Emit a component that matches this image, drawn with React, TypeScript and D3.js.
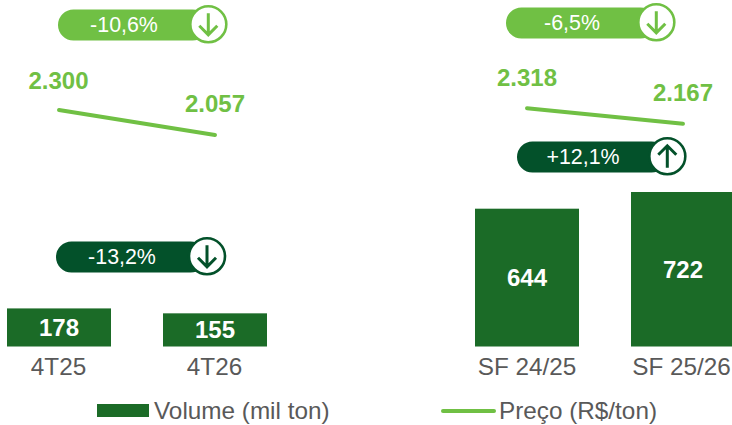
import React from "react";
import * as d3 from "d3";

const categories = ["4T25", "4T26", "SF 24/25", "SF 25/26"];
const volumes = [178, 155, 644, 722];
const priceLabels = ["2.300", "2.057", "2.318", "2.167"];
const prices = [2300, 2057, 2318, 2167];
const legendLabels = ["Volume (mil ton)", "Preço (R$/ton)"];
const pillTexts = ["-10,6%", "-6,5%", "+12,1%", "-13,2%"];
const pillDirections = ["down", "down", "up", "down"];
const pillTones = ["light", "light", "dark", "dark"];
const barLefts = [7, 163, 475, 631];
const pillLefts = [58, 506, 517, 56];
const pillMids = [25, 23, 157, 257];

const LIGHT = "#70C044";
const DARK = "#03512A";
const BAR = "#1B6B27";
const GREY = "#595959";
const FONT = "'Liberation Sans', Arial, sans-serif";

const BAR_W = 104;
const BASE = 346.5;

const yVol = d3.scaleLinear().domain([0, 722]).range([BASE, 192]);
const yPrice = d3.scaleLinear().domain([2057, 2318]).range([135, 108.2]);

function segment(x0: number, x1: number, a: number, b: number) {
  return d3
    .line<[number, number]>()
    .x((d) => d[0])
    .y((d) => yPrice(d[1]))([
    [x0, a],
    [x1, b],
  ]) as string;
}

function Pill({ i }: { i: number }) {
  const x = pillLefts[i];
  const cy = pillMids[i];
  const color = pillTones[i] === "dark" ? DARK : LIGHT;
  const w = 150;
  const h = 31;
  const cx = x + w + (i === 3 ? 1 : 0.3);
  const up = pillDirections[i] === "up";
  const my = cy - 0.7;
  const tip = up ? my - 10.5 : my + 10.5;
  const tail = up ? my + 11.5 : my - 11;
  const wing = up ? tip + 9 : tip - 9;
  return (
    <g>
      <rect x={x} y={cy - h / 2} width={w} height={h} rx={h / 2} fill={color} />
      <circle cx={cx} cy={my} r={18} fill="#fff" stroke={color} strokeWidth={2.6} />
      <path
        d={`M${cx},${tail}L${cx},${tip}M${cx - 9},${wing}L${cx},${tip}L${cx + 9},${wing}`}
        fill="none"
        stroke={color}
        strokeWidth={3}
      />
      <text x={x + 66} y={cy + 7.3} textAnchor="middle" fontSize={21.4} fill="#fff" fontFamily={FONT}>
        {pillTexts[i]}
      </text>
    </g>
  );
}

export default function App() {
  const lines: [number, number, number, number][] = [
    [59, 215, prices[0], prices[1]],
    [527, 683, prices[2], prices[3]],
  ];
  const priceLabelPos = [
    [58.5, 89],
    [215, 112],
    [527, 86],
    [683, 101],
  ];
  return (
    <svg
      width={732}
      height={425}
      viewBox="0 0 732 425"
      style={{ position: "absolute", left: 0, top: 0, display: "block" }}
    >
      {volumes.map((v, i) => (
        <g key={categories[i]}>
          <rect x={barLefts[i]} y={yVol(v)} width={BAR_W} height={BASE - yVol(v)} fill={BAR} />
          <text
            x={barLefts[i] + BAR_W / 2}
            y={(yVol(v) + BASE) / 2 + 8.5}
            textAnchor="middle"
            fontSize={24}
            fontWeight={700}
            fill="#fff"
            fontFamily={FONT}
          >
            {v}
          </text>
          <text
            x={barLefts[i] + BAR_W / 2 + (i === 3 ? -1.5 : 0) - (i < 2 ? 0.5 : 0)}
            y={375}
            textAnchor="middle"
            fontSize={24.3}
            fill={GREY}
            fontFamily={FONT}
          >
            {categories[i]}
          </text>
        </g>
      ))}
      {lines.map((l, i) => (
        <path
          key={i}
          d={segment(l[0], l[1], l[2], l[3])}
          fill="none"
          stroke={LIGHT}
          strokeWidth={4}
          strokeLinecap="round"
        />
      ))}
      {priceLabels.map((t, i) => (
        <text
          key={t}
          x={priceLabelPos[i][0]}
          y={priceLabelPos[i][1]}
          textAnchor="middle"
          fontSize={24}
          fontWeight={700}
          fill={LIGHT}
          fontFamily={FONT}
        >
          {t}
        </text>
      ))}
      {pillTexts.map((_, i) => (
        <Pill key={i} i={i} />
      ))}
      <rect x={97} y={404} width={52} height={13} fill={BAR} />
      <text x={154} y={419} fontSize={24.3} fill={GREY} fontFamily={FONT}>
        {legendLabels[0]}
      </text>
      <line x1={443} x2={494} y1={411} y2={411} stroke={LIGHT} strokeWidth={4} strokeLinecap="round" />
      <text x={499} y={419} fontSize={24.3} fill={GREY} fontFamily={FONT}>
        {legendLabels[1]}
      </text>
    </svg>
  );
}
